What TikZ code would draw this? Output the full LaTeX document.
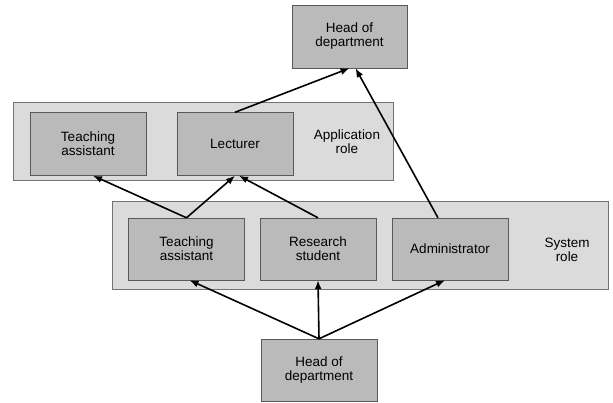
\documentclass[tikz,border=0pt]{standalone}
\usepackage{fontspec}
\setmainfont{Liberation Sans}
\usetikzlibrary{arrows.meta}

\tikzset{
	rolebox/.style={draw=black!65, fill=black!27, minimum width=116pt, minimum height=62pt, align=center, inner sep=1pt},
	layer/.style={draw=black!55, fill=black!14, inner sep=0pt},
	link/.style={-{Latex[length=9pt,width=7pt]}, line width=1.6pt},
}

\begin{document}
\begin{tikzpicture}[x=1pt,y=-1pt,font=\fontsize{13.5}{14}\selectfont]
		\useasboundingbox (0,0) rectangle (613,403);
		% layers
		\node[layer, minimum width=380pt, minimum height=78pt] (applayer) at (203,141.5){};
		\node[layer, minimum width=496pt, minimum height=88pt] (syslayer) at (360,245){};
		\node[align=center] (applabel) at (347,142){Application\\role};
		\node[align=center] (syslabel) at (567,250){System\\role};
		% roles
		\node[rolebox, minimum width=115pt, minimum height=63pt] (headtop) at (349.5,36.5){Head of\\department};
		\node[rolebox, minimum height=63pt] (appta) at (88,144){Teaching\\assistant};
		\node[rolebox, minimum height=63pt] (lect) at (235,144){Lecturer};
		\node[rolebox] (systa) at (186.5,249){Teaching\\assistant};
		\node[rolebox] (rs) at (318,249){Research\\student};
		\node[rolebox] (adm) at (450,249){Administrator};
		\node[rolebox] (headbot) at (319,370){Head of\\department};
		% arrows
		\draw[link] (lect.north) -- (headtop.south);
		\draw[link] ([xshift=-12pt]adm.north) -- ([xshift=6pt]headtop.south);
		\draw[link] (systa.north) -- ([xshift=5pt]appta.south);
		\draw[link] (systa.north) -- (lect.south);
		\draw[link] (rs.north) -- ([xshift=4pt]lect.south);
		\draw[link] (headbot.north) -- ([xshift=3pt]systa.south);
		\draw[link] (headbot.north) -- (rs.south);
		\draw[link] (headbot.north) -- ([xshift=-5pt]adm.south);
	\end{tikzpicture}
\end{document}
